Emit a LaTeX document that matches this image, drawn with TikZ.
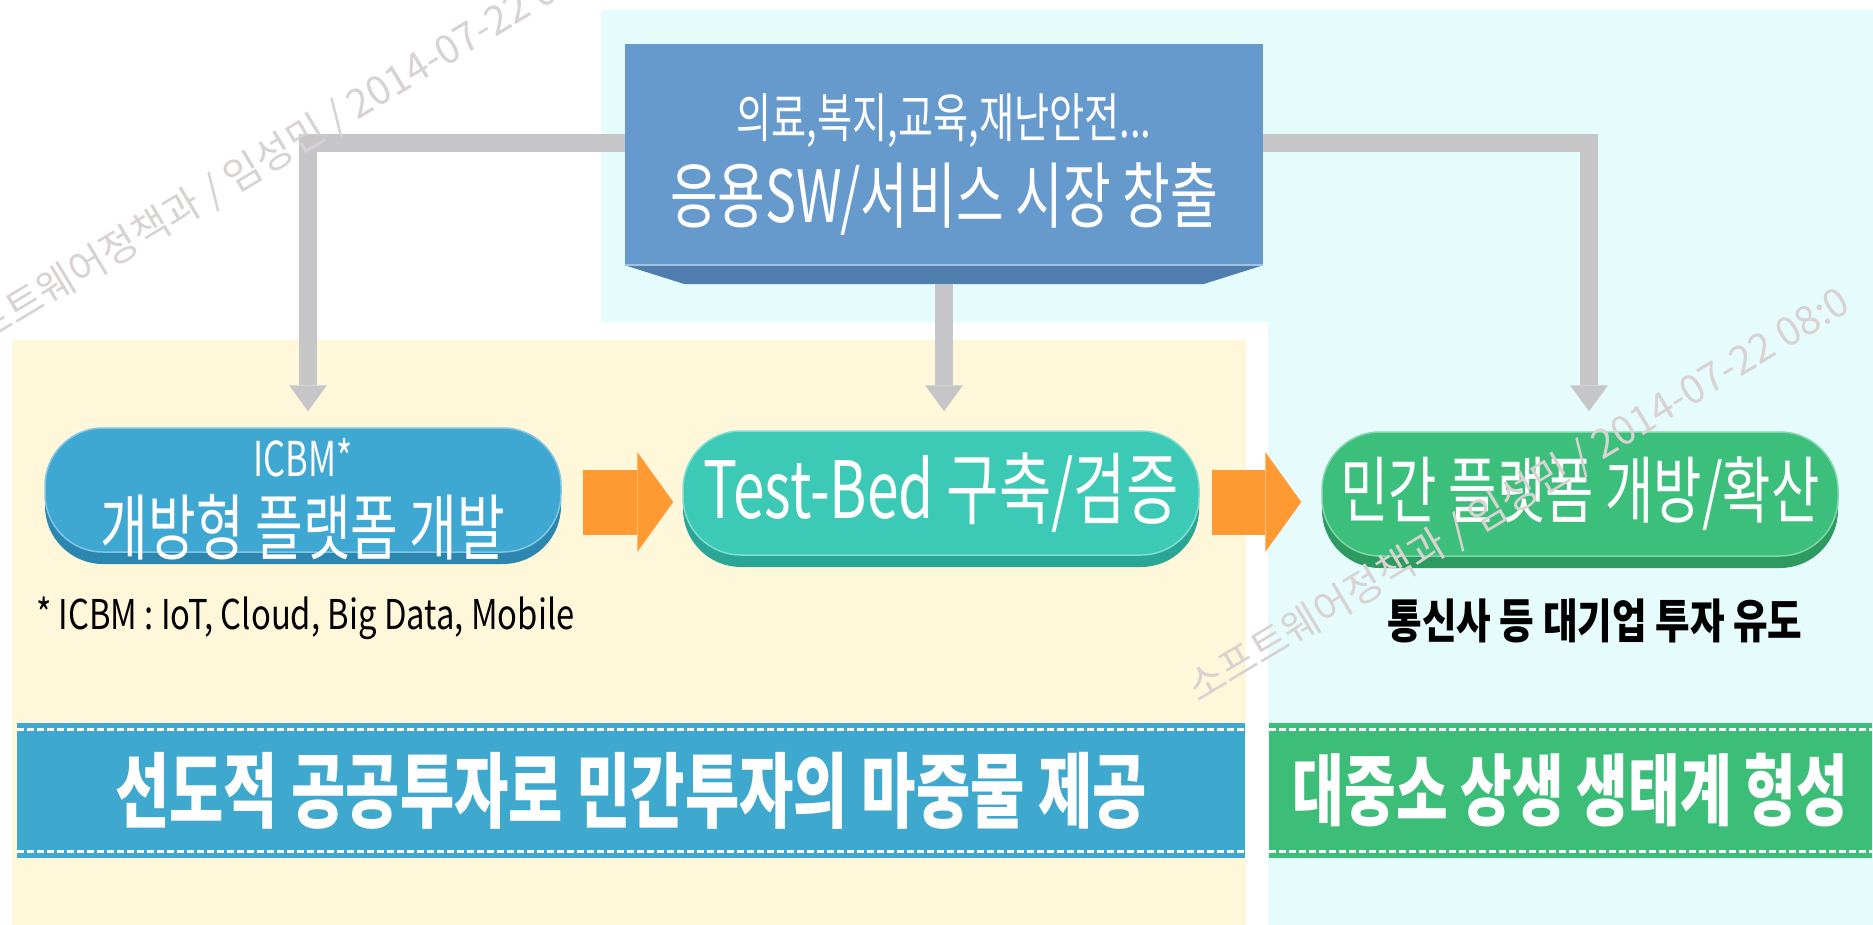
\documentclass[tikz,border=0pt]{standalone}
\usepackage{fontspec}
\setmainfont{Noto Sans CJK KR}
\newfontfamily\krnarrow[FakeStretch=0.8]{Noto Sans CJK KR}
\newfontfamily\krtall[FakeStretch=0.72]{Noto Sans CJK KR}
\usetikzlibrary{arrows.meta,shadows}

\definecolor{paleCyan}{HTML}{E6FBFC}
\definecolor{paleYellow}{HTML}{FFF7DA}
\definecolor{appBlue}{HTML}{6699CC}
\definecolor{appBlueDark}{HTML}{4E7DAE}
\definecolor{linkGrey}{HTML}{C6C6C8}
\definecolor{flowOrange}{HTML}{FF9A33}
\definecolor{devBlue}{HTML}{3FA8D2}
\definecolor{devBlueDark}{HTML}{2B86B0}
\definecolor{bedTeal}{HTML}{3CCAB6}
\definecolor{bedTealDark}{HTML}{2AA696}
\definecolor{privGreen}{HTML}{3DBF7C}
\definecolor{privGreenDark}{HTML}{2D9A60}
\definecolor{bannerBlue}{HTML}{3EA8CE}
\definecolor{bannerGreen}{HTML}{3CBE79}
\definecolor{stampGrey}{HTML}{D8D2D2}

\tikzset{
  pill/.style 2 args={rectangle, rounded corners=58pt, minimum width=516pt, minimum height=124pt,
    fill=#1, draw=#1!65!white, line width=1.5pt, text=white, align=center,
    font=\krtall\fontsize{72}{76}\selectfont,
    drop shadow={shadow xshift=0pt, shadow yshift=-12pt, opacity=1, fill=#2}},
  boxtext/.style={text=white, align=center, font=\krtall\fontsize{72}{76}\selectfont},
  link/.style={draw=linkGrey, line width=18pt, -{Triangle[width=38pt,length=26pt,line width=0pt]}},
  flow/.style={draw=flowOrange, line width=65pt, -{Triangle[width=100pt,length=36pt,line width=0pt]}},
  banner/.style={rectangle, fill=#1, minimum height=135pt, text=white,
    font=\krtall\bfseries\fontsize{82}{86}\selectfont},
  stitch/.style={draw=white, line width=3pt, dash pattern=on 7pt off 3pt},
  stamp/.style={anchor=base west, rotate=31, text=stampGrey, font=\fontsize{40}{44}\selectfont}
}

\begin{document}
\begin{tikzpicture}[x=1pt,y=-1pt]
\useasboundingbox (0,0) rectangle (1873,925);
% panels
\fill[paleCyan] (601,10) -- (1873,10) -- (1873,925) -- (1268,925) -- (1268,322) -- (601,322) -- cycle;
\fill[paleYellow] (12,340) rectangle (1246,925);

% application box
\node[rectangle, fill=appBlue, minimum width=638pt, minimum height=221pt] (app) at (944,154.5) {};
\node[boxtext] (apptext) at ([yshift=-10pt]app.center)
  {{\fontsize{53}{56}\selectfont 의료,복지,교육,재난안전...}\\[9pt]응용SW/서비스 시장 창출};
\fill[appBlueDark] (app.south west) -- (app.south east) -- ([xshift=-60pt,yshift=-19pt]app.south east)
  -- ([xshift=60pt,yshift=-19pt]app.south west) -- cycle;
\draw[white!40!appBlue, line width=1.5pt] (app.south west) -- (app.south east);

% three steps
\node[pill={devBlue}{devBlueDark}] (dev) at (303,490) {};
\node[boxtext] (devtext) at ([yshift=-9pt]dev.center)
  {{\fontsize{48}{50}\selectfont ICBM*}\\[2pt]개방형 플랫폼 개발};
\node[pill={bedTeal}{bedTealDark}, font=\krtall\fontsize{79}{82}\selectfont] (bed) at (941,493) {Test-Bed 구축/검증};
\node[pill={privGreen}{privGreenDark}, font=\krtall\fontsize{73}{76}\selectfont] (priv) at (1580,494) {민간 플랫폼 개방/확산};

% grey links from the box
\draw[link] ([yshift=11.5pt]app.west) -| ([xshift=5pt,yshift=16pt]dev.north);
\draw[link] ([yshift=-19pt]app.south) -- ([xshift=3pt,yshift=19pt]bed.north);
\draw[link] ([yshift=11.5pt]app.east) -| ([xshift=9pt,yshift=20pt]priv.north);

% orange flow
\draw[flow] ([xshift=21pt,yshift=-12pt]dev.east) -- ([xshift=-9pt,yshift=-9pt]bed.west);
\draw[flow] ([xshift=12pt,yshift=-9pt]bed.east) -- ([xshift=-20pt,yshift=-8pt]priv.west);

% notes
\node[anchor=west, inner sep=0pt, font=\krnarrow\fontsize{41}{44}\selectfont] (icbmnote) at (36,618)
  {* ICBM : IoT, Cloud, Big Data, Mobile};
\node[font=\krnarrow\bfseries\fontsize{47}{50}\selectfont] (privnote) at (1595,621) {통신사 등 대기업 투자 유도};

% banners
\node[banner=bannerBlue, minimum width=1228pt] (lead) at (631,790.5) {선도적 공공투자로 민간투자의 마중물 제공};
\node[banner=bannerGreen, minimum width=603pt, font=\krtall\bfseries\fontsize{78}{80}\selectfont] (eco) at (1570.5,790.5) {대중소 상생 생태계 형성};
\foreach \b in {lead,eco} {
  \draw[stitch] ([yshift=-7pt]\b.north west) -- ([yshift=-7pt]\b.north east);
  \draw[stitch] ([yshift=7pt]\b.south west) -- ([yshift=7pt]\b.south east);
}

% stamps
\begin{scope}
  \clip (0,0) rectangle (1873,925);
  \node[stamp] (stampA) at (-50,365) {소프트웨어정책과 / 임성민 / 2014-07-22 08:0};
  \node[stamp] (stampB) at (1195,705) {소프트웨어정책과 / 임성민 / 2014-07-22 08:0};
\end{scope}
\end{tikzpicture}
\end{document}
